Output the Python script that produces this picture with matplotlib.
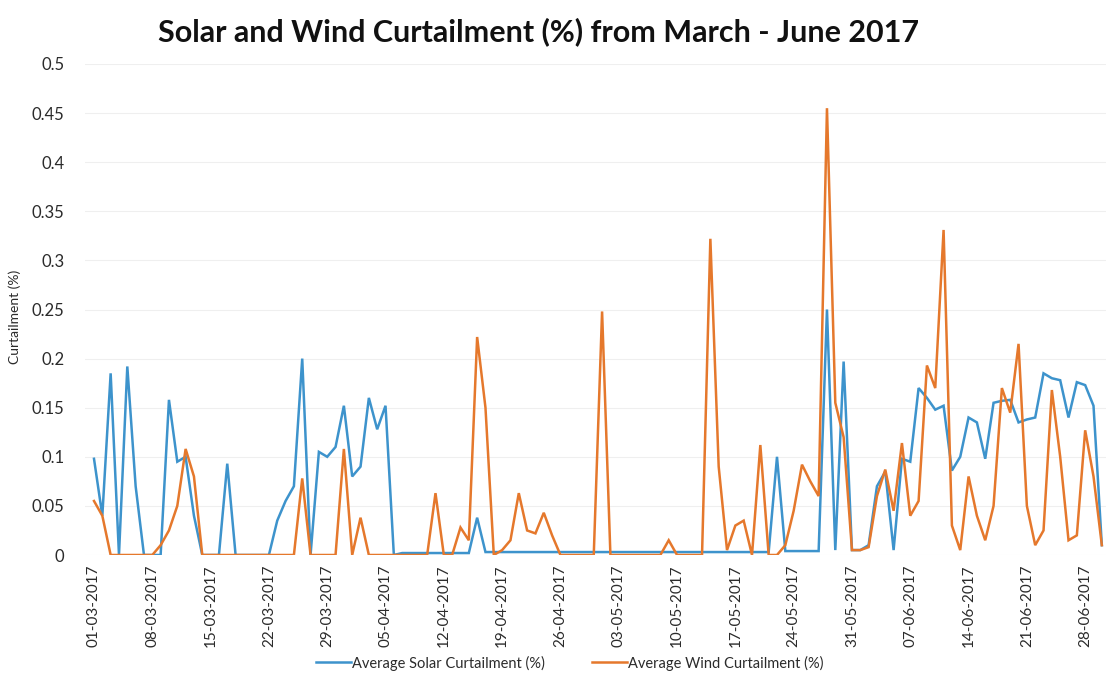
import matplotlib
matplotlib.use("Agg")
import matplotlib.pyplot as plt
import pandas as pd

plt.rcParams["font.family"] = ["Lato", "DejaVu Sans"]

# Daily averages, 01-03-2017 .. 30-06-2017
dates = pd.date_range("2017-03-01", "2017-06-30", freq="D")

solar = [
    0.098, 0.04, 0.185, 0.0, 0.192, 0.07, 0.0, 0.0, 0.0, 0.158,
    0.095, 0.1, 0.04, 0.0, 0.0, 0.0, 0.093, 0.0, 0.0, 0.0,
    0.0, 0.0, 0.035, 0.055, 0.07, 0.2, 0.0, 0.105, 0.1, 0.11,
    0.152, 0.08, 0.09, 0.16, 0.128, 0.152, 0.0, 0.002, 0.002, 0.002,
    0.002, 0.002, 0.002, 0.002, 0.002, 0.002, 0.038, 0.003, 0.003, 0.003,
    0.003, 0.003, 0.003, 0.003, 0.003, 0.003, 0.003, 0.003, 0.003, 0.003,
    0.003, 0.003, 0.003, 0.003, 0.003, 0.003, 0.003, 0.003, 0.003, 0.003,
    0.003, 0.003, 0.003, 0.003, 0.003, 0.003, 0.003, 0.003, 0.003, 0.003,
    0.003, 0.003, 0.1, 0.004, 0.004, 0.004, 0.004, 0.004, 0.25, 0.005,
    0.197, 0.005, 0.005, 0.01, 0.07, 0.085, 0.005, 0.098, 0.095, 0.17,
    0.16, 0.148, 0.152, 0.086, 0.1, 0.14, 0.135, 0.098, 0.155, 0.157,
    0.158, 0.135, 0.138, 0.14, 0.185, 0.18, 0.178, 0.14, 0.176, 0.173,
    0.152, 0.01,
]

wind = [
    0.055, 0.04, 0.0, 0.0, 0.0, 0.0, 0.0, 0.0, 0.01, 0.025,
    0.05, 0.108, 0.08, 0.0, 0.0, 0.0, 0.0, 0.0, 0.0, 0.0,
    0.0, 0.0, 0.0, 0.0, 0.0, 0.078, 0.0, 0.0, 0.0, 0.0,
    0.108, 0.0, 0.038, 0.0, 0.0, 0.0, 0.0, 0.0, 0.0, 0.0,
    0.0, 0.063, 0.0, 0.0, 0.028, 0.015, 0.222, 0.15, 0.0, 0.005,
    0.015, 0.063, 0.025, 0.022, 0.043, 0.02, 0.0, 0.0, 0.0, 0.0,
    0.0, 0.248, 0.0, 0.0, 0.0, 0.0, 0.0, 0.0, 0.0, 0.015,
    0.0, 0.0, 0.0, 0.0, 0.322, 0.09, 0.005, 0.03, 0.035, 0.0,
    0.112, 0.0, 0.0, 0.01, 0.045, 0.092, 0.075, 0.06, 0.455, 0.155,
    0.12, 0.005, 0.005, 0.008, 0.06, 0.087, 0.045, 0.114, 0.04, 0.055,
    0.193, 0.17, 0.331, 0.03, 0.005, 0.08, 0.04, 0.015, 0.05, 0.17,
    0.145, 0.215, 0.05, 0.01, 0.025, 0.168, 0.1, 0.015, 0.02, 0.127,
    0.08, 0.01,
]

y_ticks = [0, 0.05, 0.1, 0.15, 0.2, 0.25, 0.3, 0.35, 0.4, 0.45, 0.5]
y_tick_labels = ["0", "0.05", "0.1", "0.15", "0.2", "0.25", "0.3",
                 "0.35", "0.4", "0.45", "0.5"]
x_tick_pos = list(range(0, len(dates), 7))
x_tick_labels = [dates[i].strftime("%d-%m-%Y") for i in x_tick_pos]

SOLAR_C = "#3d93cc"
WIND_C = "#e5782c"
TEXT_C = "#2b2b2b"

W, H = 1108, 677
fig = plt.figure(figsize=(W / 100, H / 100), dpi=100)
ax = fig.add_axes([85 / W, 122 / H, (1106 - 85) / W, (555 - 64) / H])

x = list(range(len(dates)))
ax.plot(x, solar, color=SOLAR_C, lw=1.8, label="Average Solar Curtailment (%)",
        solid_joinstyle="miter")
ax.plot(x, wind, color=WIND_C, lw=1.8, label="Average Wind Curtailment (%)",
        solid_joinstyle="miter")

ax.set_xlim(-1.08, 121.5)
ax.set_ylim(0, 0.5)
ax.set_yticks(y_ticks)
ax.set_yticklabels(y_tick_labels)
ax.set_xticks(x_tick_pos)
ax.set_xticklabels(x_tick_labels, rotation=90)
ax.tick_params(axis="y", length=0, pad=15, labelsize=12, labelcolor=TEXT_C)
ax.tick_params(axis="x", length=0, pad=7, labelsize=11, labelcolor=TEXT_C)
for lab in ax.get_yticklabels():
    lab.set_horizontalalignment("right")

ax.grid(axis="y", color="#efefef", lw=0.8)
ax.set_axisbelow(True)
for s in ax.spines.values():
    s.set_visible(False)

fig.text(538 / W, 1 - 32 / H, "Solar and Wind Curtailment (%) from March - June 2017",
         ha="center", va="center", fontsize=22, fontweight="bold", color="#111111")
fig.text(15 / W, 1 - 317 / H, "Curtailment (%)", rotation=90, ha="center",
         va="center", fontsize=10, color=TEXT_C)

fig.legend(loc="center", bbox_to_anchor=(570 / W, 1 - 663 / H), ncol=2,
           frameon=False, fontsize=10.5, handlelength=2.4, handletextpad=0.1,
           columnspacing=3.2, labelcolor=TEXT_C)

fig.savefig("out.png", dpi=100, facecolor="white")
